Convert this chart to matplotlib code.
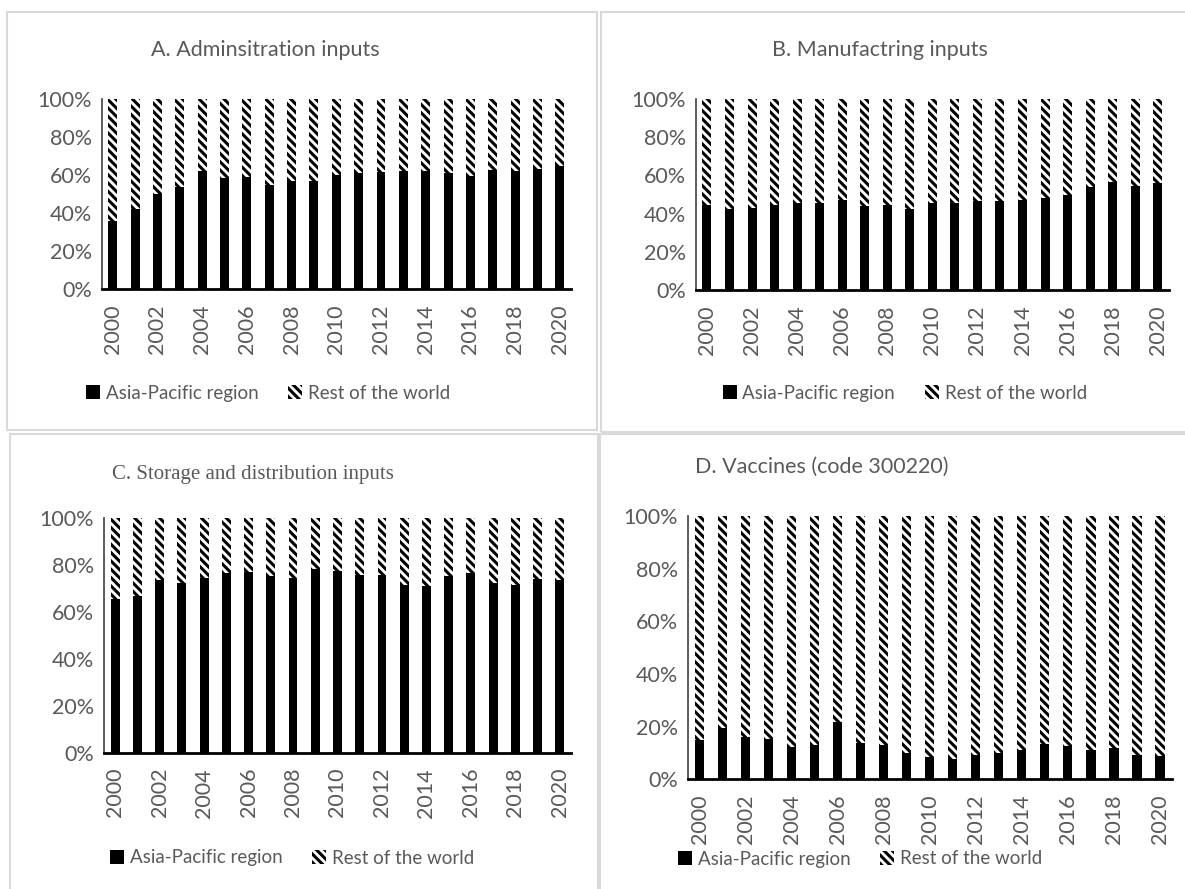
import numpy as np
import matplotlib
matplotlib.use('Agg')
import matplotlib.pyplot as plt
from matplotlib.patches import Rectangle, Patch
from matplotlib.ticker import PercentFormatter

plt.rcParams['font.family'] = ['Lato', 'DejaVu Sans']
plt.rcParams['hatch.linewidth'] = 2.2

# Share of Asia-Pacific region (%), the rest of the world fills up to 100%
years = list(range(2000, 2021))
admin_asia = [35.8, 42.1, 50.2, 53.7, 62.2, 58.4, 59.0, 54.7, 56.8, 57.0, 59.8,
              60.8, 61.7, 62.0, 61.9, 61.2, 59.6, 62.6, 62.0, 63.1, 64.7]
manuf_asia = [44.3, 42.6, 42.8, 44.5, 45.4, 45.4, 47.0, 44.0, 44.5, 42.4, 45.6,
              45.6, 46.6, 46.4, 47.3, 48.2, 49.6, 53.7, 56.5, 54.6, 55.8]
storage_asia = [65.4, 66.9, 73.4, 72.5, 74.5, 76.7, 77.1, 75.5, 74.5, 78.4, 77.5,
                75.8, 75.7, 71.5, 71.1, 75.5, 76.4, 72.5, 71.4, 74.1, 73.7]
vaccine_asia = [14.9, 19.6, 16.2, 15.3, 12.2, 13.2, 21.6, 13.7, 12.9, 10.1, 8.6,
                7.7, 9.2, 10.1, 11.0, 13.3, 12.5, 11.1, 11.9, 9.1, 8.7]

titles = ['A. Adminsitration inputs', 'B. Manufactring inputs',
          'C. Storage and distribution inputs', 'D. Vaccines (code 300220)']
series_names = ['Asia-Pacific region', 'Rest of the world']

W, H = 1185, 889
GRAY = '#595959'
FS = 15.5
fig = plt.figure(figsize=(W / 100, H / 100), dpi=100)


def fx(x):
    return x / W


def fy(y):
    return 1 - y / H


# chart frames like in Excel
for (x0, y0, x1, y1) in [(7, 12, 597, 430), (601, 12, 1190, 432),
                         (10, 434, 598, 895), (600, 434, 1190, 895)]:
    fig.patches.append(Rectangle((fx(x0), fy(y1)), fx(x1 - x0), (y1 - y0) / H,
                                 transform=fig.transFigure, fill=False,
                                 edgecolor='#d9d9d9', linewidth=1.5))

panels = [
    (admin_asia, (101.6, 99, 571, 289), (265, 50), (268, 393)),
    (manuf_asia, (695.7, 99, 1169, 290), (880, 50), (905, 393)),
    (storage_asia, (104, 518, 571, 752.7), (253, 475), (292, 858)),
    (vaccine_asia, (688, 516, 1171.5, 779.3), (822, 467), (860, 859)),
]

for i, (asia, (l, t, r, b), tpos, lpos) in enumerate(panels):
    ax = fig.add_axes([fx(l), fy(b), fx(r - l), (b - t) / H])
    asia = np.array(asia) / 100
    rest = 1 - asia
    x = np.arange(len(years))
    ax.bar(x, asia, width=0.4, color='black', linewidth=0)
    ax.bar(x, rest, bottom=asia, width=0.4, color='white', edgecolor='black',
           hatch='\\\\\\\\', linewidth=0)
    ax.set_xlim(-0.5, len(years) - 0.5)
    ax.set_ylim(0, 1)
    ax.set_yticks(np.arange(0, 1.01, 0.2))
    ax.yaxis.set_major_formatter(PercentFormatter(1.0, decimals=0))
    ax.set_xticks(x[::2])
    ax.set_xticklabels([str(y) for y in years[::2]], rotation=90)
    ax.tick_params(length=0, labelsize=FS, colors=GRAY, pad=7)
    ax.tick_params(axis='x', pad=11)
    for s in ['top', 'right']:
        ax.spines[s].set_visible(False)
    ax.spines['left'].set_color('#404040')
    ax.spines['left'].set_linewidth(1.2)
    ax.spines['bottom'].set_color('black')
    ax.spines['bottom'].set_linewidth(2)

    tfont = ['Liberation Serif'] if i == 2 else ['Lato', 'DejaVu Sans']
    fig.text(fx(tpos[0]), fy(tpos[1]), titles[i], ha='center', va='center',
             fontsize=15 if i == 2 else FS, color=GRAY, family=tfont)

    handles = [Patch(facecolor='black', linewidth=0),
               Patch(facecolor='white', edgecolor='black', hatch='\\\\\\\\', linewidth=0)]
    fig.legend(handles, series_names, loc='center', ncol=2, frameon=False,
               bbox_to_anchor=(fx(lpos[0]), fy(lpos[1])), fontsize=13.5,
               labelcolor=GRAY, handlelength=0.75, handleheight=0.75,
               handletextpad=0.3, columnspacing=1.6)

fig.savefig('out.png', dpi=100)
